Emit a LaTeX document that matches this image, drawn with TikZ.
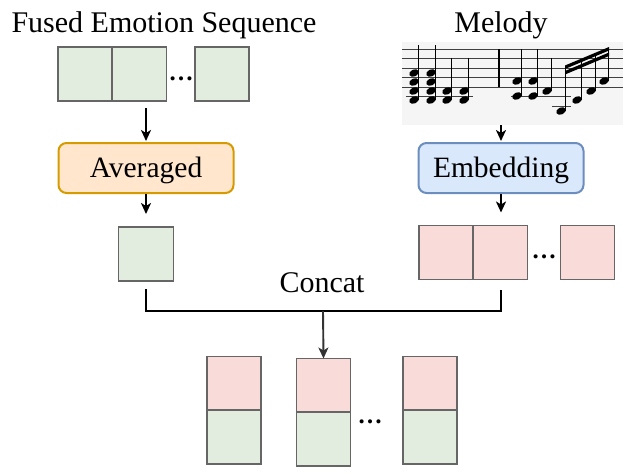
\documentclass[tikz,border=0pt]{standalone}
\usepackage{fontspec}
\setmainfont{Liberation Serif}
\usetikzlibrary{arrows.meta}
\definecolor{gfill}{HTML}{E2EDE0}
\definecolor{pfill}{HTML}{F9DBDA}
\definecolor{bgray}{HTML}{666666}
\definecolor{ofill}{HTML}{FFE6CC}
\definecolor{odraw}{HTML}{D79B00}
\definecolor{bfill}{HTML}{DAE8FC}
\definecolor{bdraw}{HTML}{6C8EBF}
\definecolor{musicbg}{HTML}{F5F5F5}
\newcommand\mynote[2]{\fill[rotate around={25:(#1,#2)}] (#1,#2) ellipse (5 and 3.5);}
\begin{document}
\begin{tikzpicture}[x=1pt,y=-1pt,
  cell/.style={draw=bgray, line width=1.8pt, minimum width=54pt, minimum height=54pt, inner sep=0pt, outer sep=0pt},
  gcell/.style={cell, fill=gfill},
  pcell/.style={cell, fill=pfill},
  proc/.style={rounded corners=8pt, line width=2pt, minimum height=50pt, inner sep=0pt, text height=24pt, text depth=6pt, font=\fontsize{29.5}{34}\selectfont},
  title/.style={anchor=base, font=\fontsize{30}{36}\selectfont, inner sep=0pt},
  dotsn/.style={anchor=base, font=\fontsize{25}{30}\selectfont\bfseries, inner sep=0pt},
  arr/.style={line width=2.2pt, -{Stealth[length=11pt,width=10pt,inset=3pt]}},
  conn/.style={line width=2.4pt},
  staff/.style={line width=0.9pt, black!75},
  stem/.style={line width=1.1pt}]
\useasboundingbox (0,0) rectangle (623,474);

% titles
\node[title] (t1) at (164,32) {Fused Emotion Sequence};
\node[title] (t2) at (501,32) {Melody};

% emotion sequence
\node[gcell] (e1) at (85,74) {};
\node[gcell] (e2) at (139.5,74) {};
\node[dotsn] (ed) at (181,80) {\ldots};
\node[gcell] (e3) at (222,74) {};

% averaged
\node[proc, fill=ofill, draw=odraw, minimum width=175pt] (avg) at (146,168) {Averaged};
\node[gcell, minimum width=55pt, minimum height=54pt] (a1) at (146,254) {};

% music
\node[fill=musicbg, minimum width=221pt, minimum height=83pt, inner sep=0pt] (music) at (512.5,83.5) {};
\foreach \yy in {49,58.5,68,77.5,87} {\draw[staff] (402,\yy) -- (623,\yy);}
\draw[line width=1.4pt] (499,49) -- (499,87);
% ledger lines
\draw[staff] (406,96) -- (473,96);
\draw[staff] (511,96) -- (556,96);
\draw[staff] (552,96) -- (571,96);
\draw[staff] (552,106) -- (571,106);
% measure 1
\foreach \xx/\st in {414/45,431/45} {
  \mynote{\xx}{73} \mynote{\xx}{82} \mynote{\xx}{91} \mynote{\xx}{100}
  \draw[stem] (\xx+4.5,\st) -- (\xx+4.5,100);
}
\foreach \xx in {447,464} {
  \mynote{\xx}{91} \mynote{\xx}{100}
  \draw[stem] (\xx+4.5,58) -- (\xx+4.5,100);
}
% measure 2
\foreach \xx in {517,533} {
  \mynote{\xx}{81} \mynote{\xx}{96}
  \draw[stem] (\xx+4.5,49) -- (\xx+4.5,96);
}
\mynote{547}{91}
\draw[stem] (551.5,58) -- (551.5,91);
\mynote{561}{111}
\mynote{577}{100}
\mynote{591}{91}
\mynote{604}{81}
\draw[stem] (565.5,67) -- (565.5,111);
\draw[stem] (581.5,60.5) -- (581.5,100);
\draw[stem] (595.5,55) -- (595.5,91);
\draw[stem] (608.5,49) -- (608.5,81);
\fill (565,65.5) -- (609,47) -- (609,50.5) -- (565,69) -- cycle;
\fill (565,71) -- (609,52.5) -- (609,56) -- (565,74.5) -- cycle;

% embedding
\node[proc, fill=bfill, draw=bdraw, minimum width=165pt] (emb) at (501,168) {Embedding};
\node[pcell] (p1) at (446,252.5) {};
\node[pcell] (p2) at (500.5,252.5) {};
\node[dotsn] (pd) at (544,258) {\ldots};
\node[pcell] (p3) at (587.5,252.5) {};

% concat
\node[title] (cc) at (322,292) {Concat};
\coordinate (j) at (323,311);

% bottom stacks
\node[pcell] (c1t) at (234,383.5) {};
\node[gcell] (c1b) at (234,437) {};
\node[pcell] (c2t) at (323.5,385.5) {};
\node[gcell] (c2b) at (323.5,439) {};
\node[dotsn] (cd) at (370,423) {\ldots};
\node[pcell] (c3t) at (430,383.5) {};
\node[gcell] (c3b) at (430,437) {};

% connectors
\draw[arr, shorten <=7pt, shorten >=1pt] (e1.south -| avg.north) -- (avg.north);
\draw[arr, shorten >=13pt] (avg.south) -- (a1.north);
\draw[arr, shorten >=1pt] (music.south -| emb.north) -- (emb.north);
\draw[arr, shorten >=13pt] (emb.south) -- (emb.south |- p1.north);
\draw[conn] ([yshift=-8pt]a1.south) -- (a1.south |- j) -- (emb.south |- j) -- ([yshift=-10pt]p2.south -| emb.south);
\draw[arr, line width=1.9pt, black!80] (j) -- (c2t.north);
\end{tikzpicture}
\end{document}
